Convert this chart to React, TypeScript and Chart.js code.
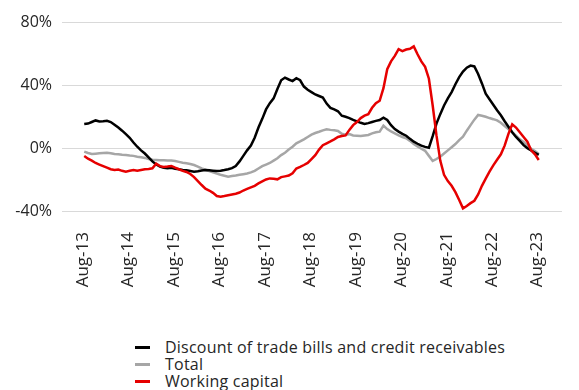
import React, { useEffect, useRef } from "react";
import { Chart, registerables } from "chart.js";

Chart.register(...registerables);

// Monthly observations, Aug-13 .. Aug-23 (121 months), % y/y
const DISCOUNT = [
  15.2, 15.5, 16.5, 17.5, 16.8, 17.0, 17.3, 16.5, 14.8, 13.0,
  11.0, 8.8, 6.5, 3.5, 0.8, -1.5, -3.5, -6.0, -8.5, -10.5,
  -11.8, -12.5, -12.8, -12.6, -13.2, -13.5, -14.0, -14.2, -14.6, -15.0,
  -14.8, -14.3, -14.0, -14.2, -14.4, -14.6, -14.4, -14.0, -13.5, -12.8,
  -11.5, -8.5, -5.0, -1.5, 1.5, 6.5, 13.0, 18.5, 24.5, 28.5,
  31.5, 37.5, 43.0, 44.7, 43.5, 42.5, 44.3, 43.0, 39.0, 37.0,
  35.5, 34.0, 33.0, 32.0, 28.2, 25.5, 24.5, 23.3, 20.5, 19.8,
  19.0, 17.8, 16.9, 16.0, 15.3, 15.8, 16.5, 17.2, 17.8, 19.3,
  17.8, 14.5, 12.0, 10.4, 9.0, 7.8, 5.8, 4.0, 2.7, 1.5,
  0.7, 0.2, 7.5, 15.5, 21.5, 27.0, 31.5, 35.5, 40.5, 45.0,
  48.5, 51.0, 52.3, 51.8, 47.0, 41.0, 34.5, 31.0, 27.5, 24.0,
  20.8, 17.0, 13.5, 10.0, 7.0, 4.5, 1.8, -0.2, -1.6, -3.0,
  -4.4,
];

const TOTAL = [
  -2.3, -3.2, -3.8, -3.6, -3.4, -3.2, -3.0, -3.3, -3.8, -4.0,
  -4.3, -4.5, -4.8, -5.0, -5.5, -5.9, -6.3, -7.0, -7.5, -7.6,
  -7.7, -7.8, -7.9, -8.0, -8.3, -8.8, -9.3, -9.7, -10.2, -10.8,
  -11.8, -12.9, -13.8, -14.6, -15.5, -16.3, -17.0, -17.6, -18.2, -17.8,
  -17.5, -17.0, -16.6, -16.2, -15.5, -14.5, -13.0, -11.5, -10.5, -9.5,
  -8.0, -6.5, -4.5, -3.0, -1.0, 0.8, 3.0, 4.2, 5.5, 7.0,
  8.5, 9.5, 10.3, 11.2, 11.9, 11.5, 11.2, 10.8, 9.0, 8.5,
  8.8, 8.0, 7.8, 7.6, 8.0, 8.3, 9.3, 10.0, 10.4, 14.2,
  12.0, 10.5, 9.3, 8.0, 7.0, 6.2, 4.5, 2.5, 1.0, -0.5,
  -1.8, -5.0, -8.2, -7.0, -5.5, -3.5, -1.5, 0.5, 2.5, 5.0,
  7.2, 11.0, 14.5, 18.0, 21.0, 20.5, 19.8, 19.0, 18.3, 17.5,
  16.0, 14.0, 12.0, 10.0, 7.8, 5.5, 3.8, 1.5, -0.5, -2.0,
  -3.8,
];

const WORKING = [
  -5.1, -6.8, -8.0, -9.5, -10.5, -11.5, -12.5, -13.5, -14.0, -13.7,
  -14.5, -15.0, -14.5, -14.0, -14.5, -14.0, -13.5, -13.3, -12.9, -10.0,
  -11.5, -12.0, -11.8, -11.4, -12.5, -13.5, -14.5, -15.2, -16.5, -18.5,
  -21.0, -23.5, -25.8, -27.0, -28.5, -30.5, -30.9, -30.5, -30.0, -29.5,
  -29.0, -28.3, -27.0, -26.0, -25.0, -24.0, -22.5, -21.2, -20.0, -19.3,
  -19.5, -19.9, -18.5, -18.0, -17.5, -16.0, -13.0, -12.0, -10.8, -9.5,
  -7.0, -4.5, -1.0, 1.8, 3.0, 4.2, 5.5, 7.0, 7.6, 8.0,
  11.5, 14.5, 16.5, 19.0, 20.5, 21.5, 25.5, 28.5, 30.0, 38.0,
  50.0, 55.0, 58.5, 62.7, 61.5, 62.5, 63.0, 64.5, 59.5, 55.0,
  51.5, 44.0, 27.0, 8.0, -8.0, -17.0, -21.0, -24.0, -28.0, -33.0,
  -38.3, -36.8, -35.0, -33.5, -29.5, -24.0, -19.5, -15.0, -11.0, -7.5,
  -4.0, 1.5, 9.0, 15.0, 13.0, 10.0, 7.0, 4.0, -1.5, -4.0,
  -7.6,
];

const X_LABELS = [
  "Aug-13", "Aug-14", "Aug-15", "Aug-16", "Aug-17", "Aug-18",
  "Aug-19", "Aug-20", "Aug-21", "Aug-22", "Aug-23",
];

const Y_TICKS = [-40, 0, 40, 80];

const SERIES_NAMES = [
  "Discount of trade bills and credit receivables",
  "Total",
  "Working capital",
];

const COLORS = ["#000000", "#a6a6a6", "#e60000"];
const FONT = "'Open Sans', 'Noto Sans', sans-serif";
const W = 579;
const CANVAS_H = 330;
const MONTHS_PER_LABEL = 12;

export default function App() {
  const ref = useRef<HTMLCanvasElement | null>(null);

  useEffect(() => {
    document.body.style.margin = "0";
    const canvas = ref.current;
    if (!canvas) return;
    const series = [DISCOUNT, TOTAL, WORKING];
    const orders = [1, 2, 0];
    const chart = new Chart(canvas, {
      type: "line",
      data: {
        datasets: series.map((s, d) => ({
          label: SERIES_NAMES[d],
          data: s.map((v, i) => ({ x: i, y: v })),
          borderColor: COLORS[d],
          backgroundColor: COLORS[d],
          borderWidth: 2.5,
          pointRadius: 0,
          tension: 0,
          order: orders[d],
        })),
      },
      options: {
        animation: false,
        responsive: false,
        devicePixelRatio: 1,
        layout: { padding: { top: 22, right: 0, left: 0, bottom: 0 } },
        plugins: { legend: { display: false }, tooltip: { enabled: false } },
        scales: {
          x: {
            type: "linear",
            min: -5.87,
            max: 126.13,
            grid: { display: false, drawTicks: false },
            border: { display: false },
            afterBuildTicks: (scale: any) => {
              scale.ticks = X_LABELS.map((_, k) => ({ value: k * MONTHS_PER_LABEL - 0.3 }));
            },
            afterFit: (scale: any) => {
              scale.height = CANVAS_H - 211;
            },
            ticks: {
              autoSkip: false,
              minRotation: 90,
              maxRotation: 90,
              padding: 21,
              color: "#262626",
              font: { family: FONT, size: 17 },
              callback: (_v: any, i: number) => X_LABELS[i],
            },
          },
          y: {
            min: -40,
            max: 80,
            afterBuildTicks: (scale: any) => {
              scale.ticks = Y_TICKS.map((v) => ({ value: v }));
            },
            afterFit: (scale: any) => {
              scale.width = 62;
            },
            grid: { color: "#d9d9d9", lineWidth: 1, drawTicks: false },
            border: { display: false },
            ticks: {
              padding: 10,
              color: "#262626",
              font: { family: FONT, size: 16 },
              callback: (v: any) => `${v}%`,
            },
          },
        },
      },
    });
    return () => chart.destroy();
  }, []);

  return (
    <div style={{ position: "relative", width: W, height: 390, overflow: "hidden", background: "#fff" }}>
      <canvas ref={ref} width={W} height={CANVAS_H} style={{ display: "block" }} />
      <div style={{ position: "absolute", left: 135, top: 339, fontFamily: FONT, fontSize: 16, lineHeight: "17px", letterSpacing: "0.22px", color: "#262626" }}>
        {SERIES_NAMES.map((name, d) => (
          <div key={name} style={{ display: "flex", alignItems: "center", whiteSpace: "nowrap" }}>
            <span style={{ display: "inline-block", width: 15, height: 3, background: COLORS[d], marginRight: 15 }} />
            <span>{name}</span>
          </div>
        ))}
      </div>
    </div>
  );
}
